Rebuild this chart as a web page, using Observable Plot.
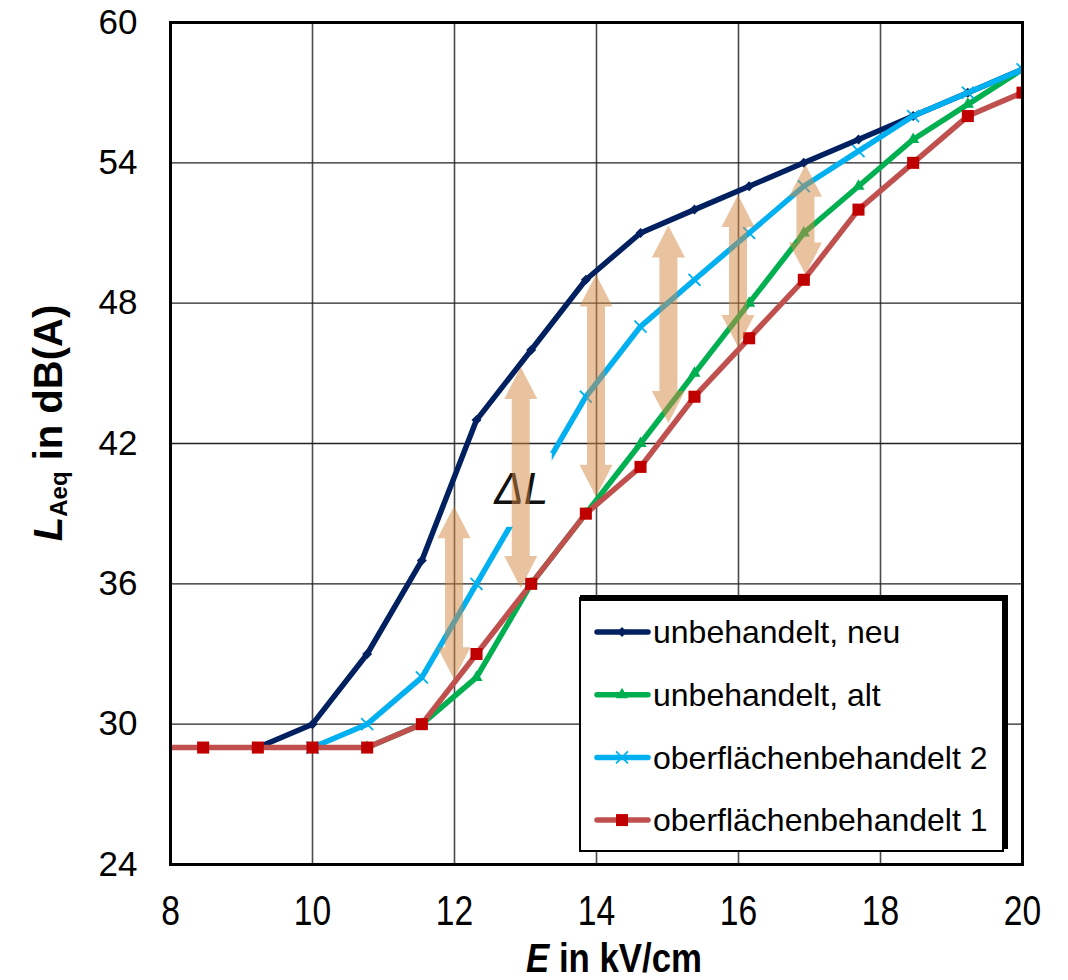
<!DOCTYPE html>
<html>
<head>
<meta charset="utf-8">
<script src="https://cdn.jsdelivr.net/npm/d3@7"></script>
<script src="https://cdn.jsdelivr.net/npm/@observablehq/plot@0.6"></script>
<style>
  html, body { margin: 0; padding: 0; background: white; }
  #chart svg { display: block; }
  g[aria-label="y-axis tick label"] { font-size: 35px; }
  g[aria-label="x-axis tick label"] { font-size: 42px; }
</style>
</head>
<body>
<div id="chart"></div>
<script>
// ---- data ----
const seriesNames = ["unbehandelt, neu", "unbehandelt, alt", "oberflächenbehandelt 2", "oberflächenbehandelt 1"];
const xNeu = [9.23, 10, 10.77, 11.54, 12.31, 13.08, 13.85, 14.62, 15.38, 16.15, 16.92, 17.69, 18.46, 19.23, 20];
const yNeu = [29, 30, 33, 37, 43, 46, 49, 51, 52, 53, 54, 55, 56, 57, 58];
const xAlt = [10.77, 11.54, 12.31, 13.08, 13.85, 14.62, 15.38, 16.15, 16.92, 17.69, 18.46, 19.23, 20];
const yAlt = [29, 30, 32, 36, 39, 42, 45, 48, 51, 53, 55, 56.5, 58];
const xOb2 = [10, 10.77, 11.54, 12.31, 13.08, 13.85, 14.62, 15.38, 16.15, 16.92, 17.69, 18.46, 19.23, 20];
const yOb2 = [29, 30, 32, 36, 40, 44, 47, 49, 51, 53, 54.5, 56, 57, 58];
const xOb1 = [7.69, 8.46, 9.23, 10, 10.77, 11.54, 12.31, 13.08, 13.85, 14.62, 15.38, 16.15, 16.92, 17.69, 18.46, 19.23, 20];
const yOb1 = [29, 29, 29, 29, 29, 30, 33, 36, 39, 41, 44, 46.5, 49, 52, 54, 56, 57];

// ΔL arrows: x position, lower and upper end (dB)
const arrowX  = [12, 12.94, 14, 15.02, 16, 16.95];
const arrowLo = [31.9, 35.8, 39.7, 42.85, 46.1, 49.2];
const arrowHi = [39.3, 45.25, 49.2, 51.3, 52.6, 53.9];
const deltaLabel = [{x: 12.94, y: 40, text: "ΔL"}];

const xTicks = [8, 10, 12, 14, 16, 18, 20];
const yTicks = [24, 30, 36, 42, 48, 54, 60];

// ---- build tables ----
const zip = (xs, ys) => xs.map((x, i) => ({x, y: ys[i]}));
const neu = zip(xNeu, yNeu), alt = zip(xAlt, yAlt), ob2 = zip(xOb2, yOb2), ob1 = zip(xOb1, yOb1);
const arrows = arrowX.map((x, i) => ({x, lo: arrowLo[i], hi: arrowHi[i]}));

const C = {neu: "#002060", alt: "#00B050", ob2: "#00B0F0", ob1line: "#C0504D", ob1mark: "#C00000"};
const LW = 5.5;

const plot = Plot.plot({
  width: 1068,
  height: 980,
  marginLeft: 170,
  marginRight: 46,
  marginTop: 22,
  marginBottom: 116,
  style: {fontFamily: "'Liberation Sans', Arial, sans-serif", background: "white", color: "black"},
  x: {domain: [8, 20], label: null},
  y: {domain: [24, 60], label: null},
  marks: [
    Plot.gridX(xTicks.slice(1, -1), {stroke: "#4a4a4a", strokeOpacity: 1, strokeWidth: 1.6}),
    Plot.gridY(yTicks.slice(1, -1), {stroke: "#222", strokeOpacity: 1, strokeWidth: 1.4}),
    Plot.axisY(yTicks, {tickSize: 0, tickPadding: 33, label: null}),
    Plot.axisX(xTicks, {tickSize: 0, tickPadding: 31, label: null}),
    // series
    Plot.line(neu, {x: "x", y: "y", stroke: C.neu, strokeWidth: LW, clip: true}),
    Plot.dot(neu, {x: "x", y: "y", symbol: "diamond2", r: 4.5, fill: C.neu, clip: true}),
    Plot.line(alt, {x: "x", y: "y", stroke: C.alt, strokeWidth: LW, clip: true}),
    Plot.dot(alt, {x: "x", y: "y", symbol: "triangle", r: 4.5, fill: C.alt, clip: true}),
    Plot.line(ob2, {x: "x", y: "y", stroke: C.ob2, strokeWidth: LW, clip: true}),
    Plot.dot(ob2, {x: "x", y: "y", symbol: "times", r: 5.5, stroke: C.ob2, strokeWidth: 1.8, clip: true}),
    Plot.line(ob1, {x: "x", y: "y", stroke: C.ob1line, strokeWidth: LW, clip: true}),
    Plot.dot(ob1, {x: "x", y: "y", symbol: "square", r: 6.8, fill: C.ob1mark, clip: true}),
    // white box behind ΔL
    (index, scales) => {
      const g = d3.create("svg:g");
      for (const d of deltaLabel) {
        const cx = scales.x(d.x), cy = scales.y(d.y);
        g.append("rect").attr("x", cx - 31).attr("y", cy - 37).attr("width", 62).attr("height", 74).attr("fill", "white");
      }
      return g.node();
    },
    Plot.text(deltaLabel, {x: "x", y: "y", text: "text", fontSize: 44, fontStyle: "italic", fill: "#111"}),
    // double arrows
    (index, scales) => {
      const g = d3.create("svg:g");
      const sw = 9, hw = 16.5, hl = 32;
      for (const a of arrows) {
        const cx = scales.x(a.x), yt = scales.y(a.hi), yb = scales.y(a.lo);
        g.append("path")
          .attr("d", `M${cx},${yt}L${cx + hw},${yt + hl}L${cx + sw},${yt + hl}L${cx + sw},${yb - hl}L${cx + hw},${yb - hl}L${cx},${yb}L${cx - hw},${yb - hl}L${cx - sw},${yb - hl}L${cx - sw},${yt + hl}L${cx - hw},${yt + hl}Z`)
          .attr("fill", "#D38741").attr("fill-opacity", 0.5);
      }
      return g.node();
    },
    Plot.frame({stroke: "black", strokeWidth: 3})
  ]
});

document.getElementById("chart").appendChild(plot);
const svg = d3.select(plot);

// narrow x tick labels
svg.selectAll('g[aria-label="x-axis tick label"] text').each(function () {
  const t = d3.select(this);
  t.attr("transform", (t.attr("transform") || "") + " scale(0.8,1)");
});

// x axis title
const xt = svg.append("text")
  .attr("transform", "translate(614,972) scale(0.87,1)")
  .attr("text-anchor", "middle")
  .attr("font-size", 40).attr("font-weight", "bold").attr("fill", "black");
xt.append("tspan").attr("font-style", "italic").text("E");
xt.append("tspan").text(" in kV/cm");

// y axis title
const yt = svg.append("text")
  .attr("transform", "translate(62,423) rotate(-90)")
  .attr("text-anchor", "middle")
  .attr("font-size", 40).attr("font-weight", "bold").attr("fill", "black");
yt.append("tspan").attr("font-style", "italic").text("L");
yt.append("tspan").attr("font-size", 24).attr("dy", 5).text("Aeq");
yt.append("tspan").attr("dy", -5).text(" in dB(A)");

// legend
const leg = svg.append("g").attr("text-anchor", "start");
leg.append("rect").attr("x", 580).attr("y", 598).attr("width", 423).attr("height", 253)
  .attr("fill", "white").attr("stroke", "black").attr("stroke-width", 2);
leg.append("line").attr("x1", 580).attr("x2", 1008).attr("y1", 598).attr("y2", 598).attr("stroke", "black").attr("stroke-width", 6);
leg.append("line").attr("x1", 1005).attr("x2", 1005).attr("y1", 595).attr("y2", 849).attr("stroke", "black").attr("stroke-width", 6);
const legItems = [
  {name: seriesNames[0], line: C.neu, sym: d3.symbolDiamond2, size: Math.PI * 20, fill: C.neu, stroke: "none"},
  {name: seriesNames[1], line: C.alt, sym: d3.symbolTriangle, size: Math.PI * 20, fill: C.alt, stroke: "none"},
  {name: seriesNames[2], line: C.ob2, sym: d3.symbolTimes, size: Math.PI * 30, fill: "none", stroke: C.ob2},
  {name: seriesNames[3], line: C.ob1line, sym: d3.symbolSquare, size: 144, fill: C.ob1mark, stroke: "none"}
];
legItems.forEach((it, i) => {
  const y = 632 + i * 62.7;
  leg.append("line").attr("x1", 597).attr("x2", 648).attr("y1", y).attr("y2", y)
    .attr("stroke", it.line).attr("stroke-width", LW).attr("stroke-linecap", "round");
  leg.append("path").attr("d", d3.symbol(it.sym, it.size)()).attr("transform", `translate(622,${y})`)
    .attr("fill", it.fill).attr("stroke", it.stroke).attr("stroke-width", 1.8);
  leg.append("text").attr("x", 653).attr("y", y).attr("dy", "0.35em").attr("text-anchor", "start")
    .attr("font-size", 32).attr("fill", "black").text(it.name);
});
</script>
</body>
</html>
